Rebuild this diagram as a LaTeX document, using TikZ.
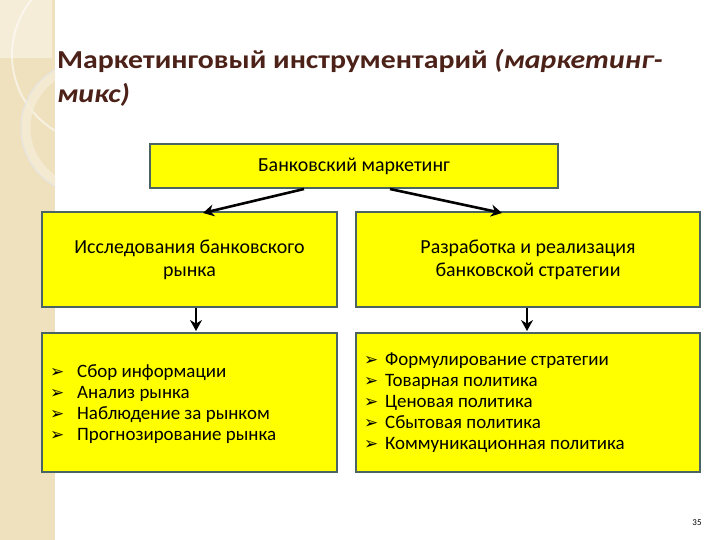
\documentclass[tikz,border=0pt]{standalone}
\usepackage{fontspec}
\setmainfont{Carlito}
\newfontfamily\titlefont[FakeStretch=1.15]{Carlito}
\newfontfamily\symfont{DejaVu Sans}
\usetikzlibrary{arrows.meta}
\definecolor{strip}{HTML}{EFE1BE}
\definecolor{stripl}{HTML}{F6EDD8}
\definecolor{titlec}{HTML}{4B2118}
\definecolor{boxy}{HTML}{FFFF00}
\definecolor{boxb}{HTML}{4A6464}
\tikzset{
  ybox/.style={draw=boxb, fill=boxy, line width=1.6pt},
  conn/.style={line width=2.6pt, -{Stealth[length=11pt,width=12pt]}},
  hdr/.style={font=\fontsize{20}{23}\selectfont, align=center},
  bul/.style={anchor=base west, inner sep=0, font=\symfont\fontsize{17}{17}\selectfont},
  lst/.style={anchor=base west, inner sep=0, font=\fontsize{19}{21}\selectfont},
}
\begin{document}
\begin{tikzpicture}[x=1bp,y=-1bp]
\useasboundingbox (0,0) rectangle (720,540);
\fill[white] (0,0) rectangle (720,540);
% decorative strip
\fill[strip] (0,0) rectangle (55,540);
\begin{scope}
\clip (0,0) rectangle (55,540);
\fill[stripl] (0,0) rectangle (52,58);
\draw[white, opacity=0.55, line width=2pt] (100,55) circle (88);
\draw[stripl, opacity=0.8, line width=9pt] (88,128) circle (62);
\draw[black!10, line width=1pt] (88,128) circle (67);
\end{scope}
% title
\node[anchor=base west, text=titlec, font=\titlefont\bfseries\fontsize{26}{34}\selectfont, inner sep=0] (title1) at (57,69)
  {Маркетинговый инструментарий \textit{(маркетинг-}};
\node[anchor=base west, text=titlec, font=\titlefont\bfseries\fontsize{26}{34}\selectfont, inner sep=0] (title2) at (57,103)
  {\textit{микс)}};
% boxes
\node[ybox, minimum width=408bp, minimum height=44bp, hdr] (top) at (354,166) {Банковский маркетинг};
\node[ybox, minimum width=295bp, minimum height=95bp, hdr] (lres) at (189.5,259.5) {Исследования банковского\\рынка};
\node[ybox, minimum width=344bp, minimum height=95bp, hdr] (rdev) at (528,259.5) {Разработка и реализация\\банковской стратегии};
\node[ybox, minimum width=295bp, minimum height=139bp] (llist) at (189.5,402.5) {};
\node[ybox, minimum width=344bp, minimum height=139bp] (rlist) at (528,402.5) {};
% left list
\foreach \t [count=\i] in {Сбор информации, Анализ рынка, Наблюдение за рынком, Прогнозирование рынка}{
  \node[bul] (lb\i) at (50,377+21*\i-21) {➢};
  \node[lst] (lt\i) at (77,377+21*\i-21) {\t};
}
% right list
\foreach \t [count=\i] in {Формулирование стратегии, Товарная политика, Ценовая политика, Сбытовая политика, Коммуникационная политика}{
  \node[bul] (rb\i) at (364,365+21*\i-21) {➢};
  \node[lst] (rt\i) at (385,365+21*\i-21) {\t};
}
% connectors
\coordinate (a1) at (304,189);
\coordinate (a2) at (390,189);
\draw[conn] (a1) -- (203,213);
\draw[conn] (a2) -- (502,213);
\draw[conn] (196,308) -- (196,331);
\draw[conn] (527,308) -- (527,331);
% page number
\node[font=\fontsize{9}{10}\selectfont] (pg) at (697,523) {35};
\end{tikzpicture}
\end{document}
